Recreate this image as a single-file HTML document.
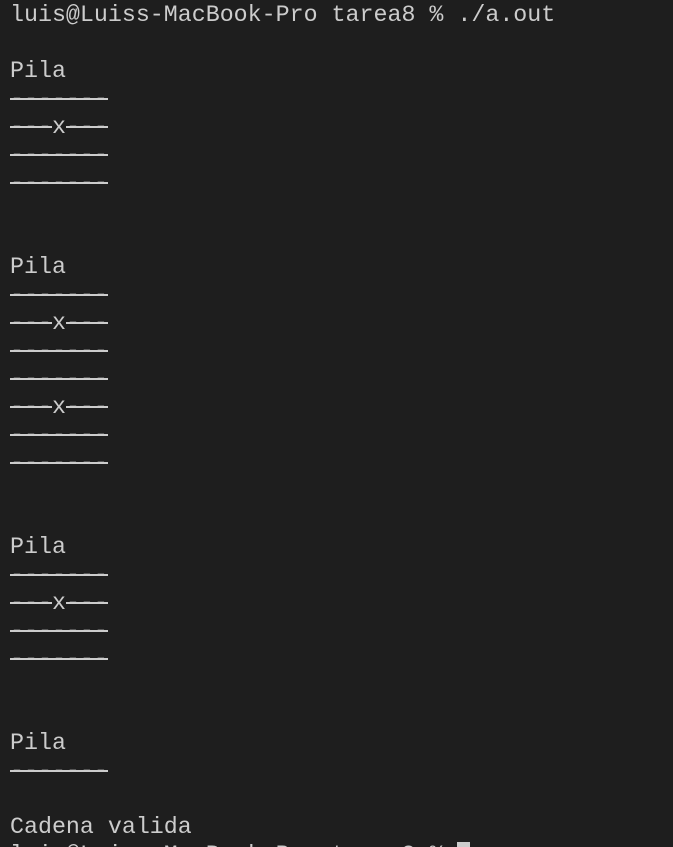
<!DOCTYPE html>
<html><head><meta charset="utf-8"><style>
html,body{margin:0;padding:0;background:#1e1e1e;width:673px;height:847px;overflow:hidden}
pre{margin:0;padding:1px 0 0 10px;font-family:"Liberation Mono",monospace;font-size:23.3px;line-height:28px;color:#cccccc}
.d{background:linear-gradient(#cccccc,#cccccc) 0 12px/100% 2px no-repeat}
.c{display:inline-block;width:13px;height:24px;background:#cccccc;vertical-align:top;margin-top:1px}
</style></head><body><pre>luis@Luiss-MacBook-Pro tarea8 % ./a.out

Pila
<span class="d">-------</span>
<span class="d">---</span>x<span class="d">---</span>
<span class="d">-------</span>
<span class="d">-------</span>


Pila
<span class="d">-------</span>
<span class="d">---</span>x<span class="d">---</span>
<span class="d">-------</span>
<span class="d">-------</span>
<span class="d">---</span>x<span class="d">---</span>
<span class="d">-------</span>
<span class="d">-------</span>


Pila
<span class="d">-------</span>
<span class="d">---</span>x<span class="d">---</span>
<span class="d">-------</span>
<span class="d">-------</span>


Pila
<span class="d">-------</span>

Cadena valida
luis@Luiss-MacBook-Pro tarea8 % <span class="c"></span></pre></body></html>
